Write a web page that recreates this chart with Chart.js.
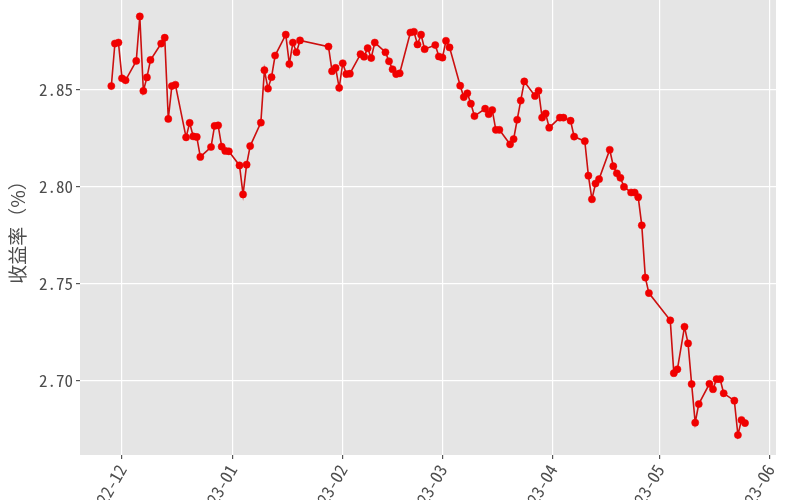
<!DOCTYPE html>
<html>
<head>
<meta charset="utf-8">
<script src="https://cdn.jsdelivr.net/npm/chart.js@4"></script>
<style>
  html, body { margin: 0; padding: 0; background: #fff; }
  #wrap { width: 800px; height: 500px; }
</style>
</head>
<body>
<div id="wrap"><canvas id="yieldChart"></canvas></div>
<script>
// --- Data ---

const dates = [
  '2022-11-28', '2022-11-29', '2022-11-30', '2022-12-01', '2022-12-02', '2022-12-05', '2022-12-06', '2022-12-07',
  '2022-12-08', '2022-12-09', '2022-12-12', '2022-12-13', '2022-12-14', '2022-12-15', '2022-12-16', '2022-12-19',
  '2022-12-20', '2022-12-21', '2022-12-22', '2022-12-23', '2022-12-26', '2022-12-27', '2022-12-28', '2022-12-29',
  '2022-12-30', '2022-12-31', '2023-01-03', '2023-01-04', '2023-01-05', '2023-01-06', '2023-01-09', '2023-01-10',
  '2023-01-11', '2023-01-12', '2023-01-13', '2023-01-16', '2023-01-17', '2023-01-18', '2023-01-19', '2023-01-20',
  '2023-01-28', '2023-01-29', '2023-01-30', '2023-01-31', '2023-02-01', '2023-02-02', '2023-02-03', '2023-02-06',
  '2023-02-07', '2023-02-08', '2023-02-09', '2023-02-10', '2023-02-13', '2023-02-14', '2023-02-15', '2023-02-16',
  '2023-02-17', '2023-02-20', '2023-02-21', '2023-02-22', '2023-02-23', '2023-02-24', '2023-02-27', '2023-02-28',
  '2023-03-01', '2023-03-02', '2023-03-03', '2023-03-06', '2023-03-07', '2023-03-08', '2023-03-09', '2023-03-10',
  '2023-03-13', '2023-03-14', '2023-03-15', '2023-03-16', '2023-03-17', '2023-03-20', '2023-03-21', '2023-03-22',
  '2023-03-23', '2023-03-24', '2023-03-27', '2023-03-28', '2023-03-29', '2023-03-30', '2023-03-31', '2023-04-03',
  '2023-04-04', '2023-04-06', '2023-04-07', '2023-04-10', '2023-04-11', '2023-04-12', '2023-04-13', '2023-04-14',
  '2023-04-17', '2023-04-18', '2023-04-19', '2023-04-20', '2023-04-21', '2023-04-23', '2023-04-24', '2023-04-25',
  '2023-04-26', '2023-04-27', '2023-04-28', '2023-05-04', '2023-05-05', '2023-05-06', '2023-05-08', '2023-05-09',
  '2023-05-10', '2023-05-11', '2023-05-12', '2023-05-15', '2023-05-16', '2023-05-17', '2023-05-18', '2023-05-19',
  '2023-05-22', '2023-05-23', '2023-05-24', '2023-05-25'
];

const yields = [
  2.852, 2.874, 2.8745, 2.856, 2.855, 2.865, 2.888, 2.8495,
  2.8565, 2.8655, 2.874, 2.877, 2.835, 2.852, 2.8527, 2.8255,
  2.833, 2.826, 2.8257, 2.8154, 2.8205, 2.8314, 2.8317, 2.8207,
  2.8185, 2.8183, 2.811, 2.796, 2.8114, 2.821, 2.8331, 2.8602,
  2.8507, 2.8566, 2.8678, 2.8786, 2.8634, 2.8745, 2.8695, 2.8756,
  2.8724, 2.8597, 2.8614, 2.8511, 2.8638, 2.8582, 2.8584, 2.8685,
  2.8672, 2.8716, 2.8665, 2.8745, 2.8695, 2.8648, 2.8607, 2.8582,
  2.8586, 2.8797, 2.8801, 2.8735, 2.8786, 2.8711, 2.8732, 2.8673,
  2.8667, 2.8754, 2.872, 2.8522, 2.8463, 2.8483, 2.8429, 2.8365,
  2.8403, 2.8375, 2.8396, 2.8294, 2.8294, 2.8219, 2.8246, 2.8346,
  2.8445, 2.8544, 2.8469, 2.8496, 2.8357, 2.8378, 2.8305, 2.8357,
  2.8357, 2.8341, 2.8259, 2.8235, 2.8057, 2.7935, 2.8016, 2.8039,
  2.8191, 2.8106, 2.8069, 2.8046, 2.7999, 2.797, 2.797, 2.7946,
  2.78, 2.753, 2.745, 2.7309, 2.7036, 2.7056, 2.7276, 2.719,
  2.698, 2.678, 2.6876, 2.6981, 2.6953, 2.7005, 2.7005, 2.6932,
  2.6894, 2.6716, 2.6794, 2.6778
];

const xTickDates = ['2022-12-01', '2023-01-01', '2023-02-01', '2023-03-01', '2023-04-01', '2023-05-01', '2023-06-01'];
const xTickLabels = ['2022-12', '2023-01', '2023-02', '2023-03', '2023-04', '2023-05', '2023-06'];
const yTicks = [2.70, 2.75, 2.80, 2.85];

// --- Helpers ---

const DAY = 86400000;
const BASE = Date.parse('2022-12-01');
const toDay = (d) => (Date.parse(d) - BASE) / DAY;

const points = dates.map((d, i) => ({ x: toDay(d), y: yields[i] }));
const xTickVals = xTickDates.map(toDay);

const tickFont = { family: "'Noto Sans Mono CJK SC', 'DejaVu Sans Mono', monospace", size: 17 };

// grey panel behind the plot, ggplot style
const panelBg = {
  id: 'panelBg',
  beforeDraw(chart) {
    const { ctx, chartArea: a } = chart;
    ctx.save();
    ctx.fillStyle = '#e5e5e5';
    ctx.fillRect(a.left, a.top, a.right - a.left, a.bottom - a.top);
    ctx.restore();
  }
};

// --- Chart ---

const ctx = document.getElementById('yieldChart').getContext('2d');
new Chart(ctx, {
  type: 'line',
  data: {
    datasets: [{
      data: points,
      borderColor: '#cc1010',
      borderWidth: 1.6,
      tension: 0,
      pointRadius: 3.6,
      pointBackgroundColor: '#f00000',
      pointBorderColor: '#f00000',
      pointBorderWidth: 0.5,
      fill: false
    }]
  },
  options: {
    responsive: true,
    maintainAspectRatio: false,
    animation: false,
    layout: { autoPadding: false, padding: { top: 0, right: 24, left: 0, bottom: 0 } },
    plugins: { legend: { display: false }, tooltip: { enabled: false } },
    scales: {
      x: {
        type: 'linear',
        min: -11.8,
        max: 183.7,
        afterBuildTicks: (axis) => { axis.ticks = xTickVals.map(v => ({ value: v })); },
        afterFit: (axis) => { axis.height = 45; axis.paddingLeft = 0; axis.paddingRight = 0; },
        grid: { color: '#ffffff', lineWidth: 1.2, tickColor: '#555', tickLength: 4 },
        border: { display: false },
        ticks: {
          color: '#4d4d4d',
          font: tickFont,
          minRotation: 60,
          maxRotation: 60,
          padding: 2,
          callback: (v) => {
            const i = xTickVals.indexOf(v);
            return i >= 0 ? xTickLabels[i] : '';
          }
        }
      },
      y: {
        min: 2.6613,
        max: 2.8965,
        afterBuildTicks: (axis) => { axis.ticks = yTicks.map(v => ({ value: v })); },
        afterFit: (axis) => { axis.width = 80; axis.paddingTop = 0; axis.paddingBottom = 0; },
        grid: { color: '#ffffff', lineWidth: 1.2, tickColor: '#555', tickLength: 4 },
        border: { display: false },
        ticks: {
          color: '#4d4d4d',
          font: tickFont,
          padding: 3,
          callback: (v) => v.toFixed(2)
        },
        title: {
          display: true,
          text: '收益率（%）',
          color: '#4d4d4d',
          font: { family: "'Noto Sans CJK SC', sans-serif", size: 19 },
          padding: { top: 6, bottom: 0 }
        }
      }
    }
  },
  plugins: [panelBg]
});
</script>
</body>
</html>
